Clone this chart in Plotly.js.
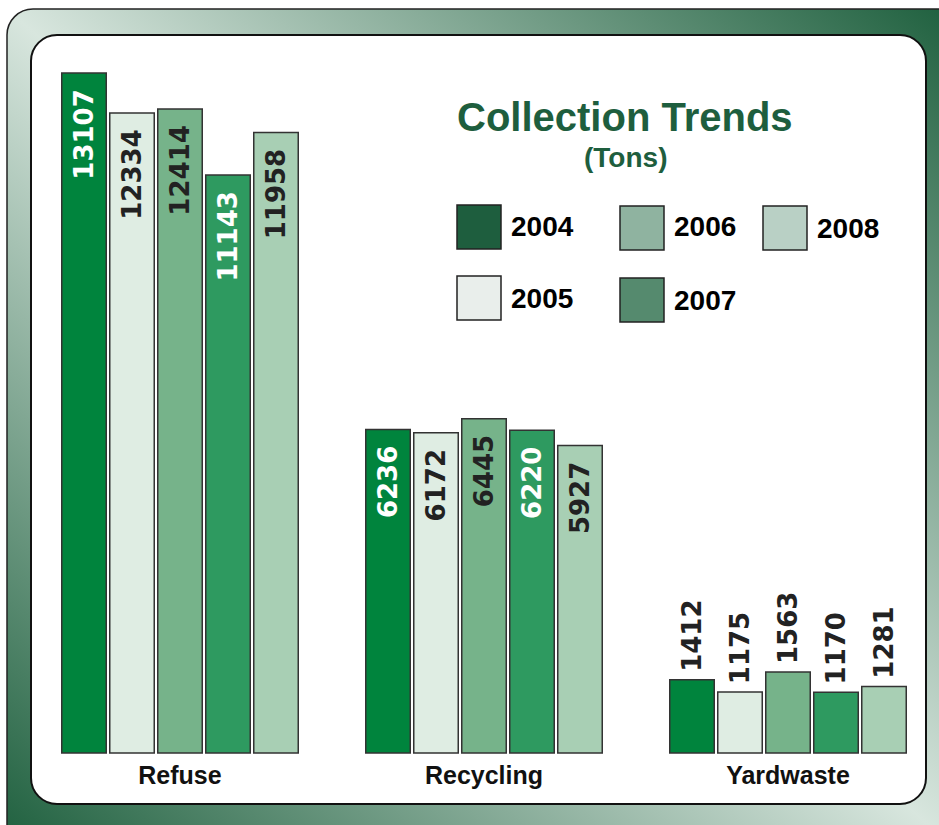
<!DOCTYPE html>
<html>
<head>
<meta charset="utf-8">
<script src="https://cdn.plot.ly/plotly-3.0.1.min.js"></script>
<style>
html,body{margin:0;padding:0;background:#fff;}
#chart{width:939px;height:825px;}
</style>
</head>
<body>
<div id="chart"></div>
<script>
// ---- data ----
const categories = ["Refuse", "Recycling", "Yardwaste"];
const years = ["2004", "2005", "2006", "2007", "2008"];
const tons2004 = [13107, 6236, 1412];
const tons2005 = [12334, 6172, 1175];
const tons2006 = [12414, 6445, 1563];
const tons2007 = [11143, 6220, 1170];
const tons2008 = [11958, 5927, 1281];
const titleText = "Collection Trends";
const subtitleText = "(Tons)";

// ---- styles ----
const series = [tons2004, tons2005, tons2006, tons2007, tons2008];
const barColors = ["#00843D", "#DFEDE3", "#76B38A", "#2E9A60", "#A8CFB4"];
const legendColors = ["#1E5E3E", "#E9EEEB", "#8FB3A0", "#558A6E", "#B9D0C5"];
const insideTextColors = ["#ffffff", "#222222", "#222222", "#ffffff", "#222222"];
const textPositions = ["inside", "inside", "outside"];
const padIn = '\u00a0<span style="font-size:12px">\u00a0</span>';
const padOut = '<span style="font-size:14px">\u00a0</span>';
const templates = ["%{text}" + padIn, "%{text}" + padIn, padOut + "%{text}"];

const W = 939, H = 825, MB = 70;
const PH = H - MB;
const px = x => x / W;
const py = y => (PH - y) / PH;

const valueFont = { family: "DejaVu Sans", size: 26, weight: 700 };

const traces = series.map((vals, i) => ({
  type: "bar",
  name: years[i],
  x: categories,
  y: vals,
  marker: { color: barColors[i], line: { color: "#333333", width: 1.5 } },
  text: vals.map(String),
  texttemplate: templates,
  textposition: textPositions,
  textangle: -90,
  insidetextanchor: "end",
  constraintext: "none",
  cliponaxis: false,
  insidetextfont: Object.assign({}, valueFont, { color: insideTextColors[i] }),
  outsidetextfont: Object.assign({}, valueFont, { color: "#222222" }),
  hoverinfo: "skip"
}));

// frame drawn as SVG image behind plot
const frameSvg =
  '<svg xmlns="http://www.w3.org/2000/svg" width="939" height="825" viewBox="0 0 939 825">' +
  '<defs><linearGradient id="g" x1="1" y1="0" x2="0" y2="1">' +
  '<stop offset="0" stop-color="#1C5E3C"/>' +
  '<stop offset="0.5" stop-color="#D8E6DE"/>' +
  '<stop offset="1" stop-color="#1C5E3C"/>' +
  '</linearGradient></defs>' +
  '<rect x="7" y="9" width="960" height="850" rx="26" ry="26" fill="url(#g)" stroke="#222" stroke-width="1.5"/>' +
  '<rect x="31" y="35" width="895" height="769" rx="26" ry="26" fill="#ffffff" stroke="#111" stroke-width="2"/>' +
  '</svg>';
const frameUri = "data:image/svg+xml;charset=utf-8," + encodeURIComponent(frameSvg);

// legend built from shapes + annotations
const legendPos = [
  { x: 457, y: 205, ty: 226, tx: 509 },
  { x: 457, y: 276, ty: 298, tx: 509 },
  { x: 620, y: 206, ty: 227, tx: 672 },
  { x: 620, y: 278, ty: 300, tx: 672 },
  { x: 763, y: 206, ty: 228, tx: 815 }
];
const shapes = legendPos.map((p, i) => ({
  type: "rect", xref: "paper", yref: "paper",
  x0: px(p.x), x1: px(p.x + 44), y0: py(p.y + 44), y1: py(p.y),
  fillcolor: legendColors[i], line: { color: "#222", width: 1.5 }
}));
const annotations = legendPos.map((p, i) => ({
  xref: "paper", yref: "paper", x: px(p.tx), y: py(p.ty),
  xanchor: "left", yanchor: "middle", showarrow: false,
  text: years[i],
  font: { family: "Liberation Sans", size: 28, weight: 700, color: "#000" }
}));
annotations.push({
  xref: "paper", yref: "paper", x: px(625), y: py(117),
  xanchor: "center", yanchor: "middle", showarrow: false,
  text: titleText,
  font: { family: "Liberation Sans", size: 40, weight: 700, color: "#1E5E3E" }
});
annotations.push({
  xref: "paper", yref: "paper", x: px(625), y: py(158),
  xanchor: "center", yanchor: "middle", showarrow: false,
  text: subtitleText,
  font: { family: "Liberation Sans", size: 28, weight: 700, color: "#1E5E3E" }
});

// axis ranges: category centres at 180 + 304*i px, baseline at 753 px
const spacing = 304, c0 = 180;
const scale = 680 / 13107; // px per ton
const yMin = -(PH - 753) / scale;
const yMax = yMin + PH / scale;

const layout = {
  width: W, height: H,
  margin: { l: 0, r: 0, t: 0, b: MB, pad: 0 },
  paper_bgcolor: "rgba(0,0,0,0)",
  plot_bgcolor: "rgba(0,0,0,0)",
  showlegend: false,
  barmode: "group",
  bargap: 1 - 240 / spacing,
  bargroupgap: 0.073,
  xaxis: {
    range: [-c0 / spacing, (W - c0) / spacing],
    showgrid: false, zeroline: false, showline: false, ticks: "",
    ticklabelstandoff: 3,
    tickfont: { family: "Liberation Sans", size: 25, weight: 700, color: "#111" }
  },
  yaxis: { range: [yMin, yMax], visible: false, showgrid: false, zeroline: false },
  images: [{
    source: frameUri, xref: "paper", yref: "paper",
    x: 0, y: 1, sizex: 1, sizey: H / PH,
    xanchor: "left", yanchor: "top", sizing: "stretch", layer: "below"
  }],
  shapes: shapes,
  annotations: annotations
};

Plotly.newPlot("chart", traces, layout, { staticPlot: true, displayModeBar: false });
</script>
</body>
</html>
